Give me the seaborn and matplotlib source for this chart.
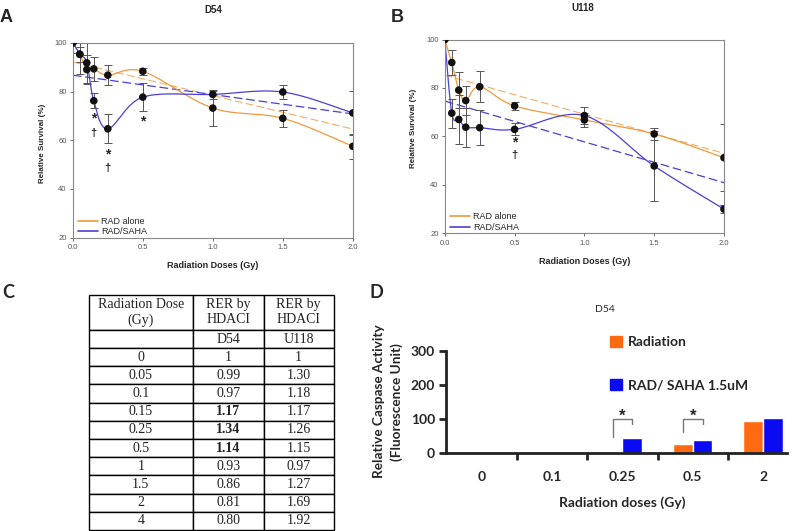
import numpy as np
import pandas as pd
import matplotlib
matplotlib.use("Agg")
import matplotlib.pyplot as plt
from matplotlib.lines import Line2D
from matplotlib.patches import Patch
import seaborn as sns

sns.set_style("white")
plt.rcParams['font.family'] = ['Liberation Sans', 'DejaVu Sans']

# ---- data ----
doses = [0, 0.05, 0.1, 0.15, 0.25, 0.5, 1.0, 1.5, 2.0]

# panel A, D54
a_rad = [100, 95.3, 89.0, 89.3, 86.7, 88.3, 73.2, 69.0, 57.5]
a_rad_err = [4.2, 3.0, 6.0, 5.0, 4.0, 1.5, 7.2, 3.6, 5.0]
a_saha = [100, 95.3, 91.8, 76.2, 64.7, 77.7, 78.8, 79.8, 71.2]
a_saha_err = [0, 8.3, 8.5, 3.0, 6.0, 5.8, 2.0, 2.8, 9.2]
a_trend_rad = [92.1, 64.6]
a_trend_saha = [86.7, 70.8]

# panel B, U118
b_rad = [100, 90.5, 79.1, 74.8, 80.5, 72.6, 66.8, 61.0, 51.2]
b_rad_err = [0, 5.3, 7.5, 6.0, 6.4, 1.6, 3.0, 2.6, 13.8]
b_saha = [100, 69.6, 67.0, 63.8, 63.6, 62.9, 68.6, 47.8, 30.0]
b_saha_err = [0, 6.0, 10.0, 8.0, 7.3, 2.5, 3.6, 14.5, 1.6]
b_trend_rad = [85.3, 53.0]
b_trend_saha = [74.6, 40.9]

# panel C table
table_doses = ['0', '0.05', '0.1', '0.15', '0.25', '0.5', '1', '1.5', '2', '4']
rer_d54 = ['1', '0.99', '0.97', '1.17', '1.34', '1.14', '0.93', '0.86', '0.81', '0.80']
rer_u118 = ['1', '1.30', '1.18', '1.17', '1.26', '1.15', '0.97', '1.27', '1.69', '1.92']
bold_d54 = ['0.15', '0.25', '0.5']

# panel D caspase
casp_doses = ['0', '0.1', '0.25', '0.5', '2']
casp_rad = [0, 0, 2, 27, 95]
casp_saha = [0, 0, 44, 38, 102]
sig_groups = ['0.25', '0.5']
sig_left = [48, 62]
sig_right = [84, 84]
sig_top = [100, 100]

ORANGE = '#EE9A3C'
BLUE = '#4A3FD6'
GREY = '#555555'


def smooth(xs, ys, sx, sy, n=25):
    # Excel-like smoothed line, computed in screen-ish units
    p = np.column_stack([np.asarray(xs) * sx, np.asarray(ys) * sy])
    segs = []
    for i in range(len(p) - 1):
        p0 = p[max(i - 1, 0)]
        p1 = p[i]
        p2 = p[i + 1]
        p3 = p[min(i + 2, len(p) - 1)]
        c1 = p1 + (p2 - p0) / 6
        c2 = p2 - (p3 - p1) / 6
        t = np.linspace(0, 1, n)[:, None]
        segs.append((1 - t) ** 3 * p1 + 3 * (1 - t) ** 2 * t * c1 + 3 * (1 - t) * t ** 2 * c2 + t ** 3 * p2)
    arr = np.vstack(segs)
    return arr[:, 0] / sx, arr[:, 1] / sy


def survival_panel(ax, rad, rad_err, saha, saha_err, tr_rad, tr_saha):
    xr, yr = smooth(doses, rad, 140, 2.44)
    xs, ys = smooth(doses, saha, 140, 2.44)
    ax.plot([0, 2], tr_rad, color=ORANGE, lw=0.8, ls=(0, (7, 3)), alpha=0.8)
    ax.plot([0, 2], tr_saha, color=BLUE, lw=0.9, ls=(0, (7, 3)))
    ax.plot(xr, yr, color=ORANGE, lw=0.9)
    ax.plot(xs, ys, color=BLUE, lw=0.9)
    ax.errorbar(doses, rad, yerr=rad_err, fmt='none', ecolor=GREY, elinewidth=0.7, capsize=3, capthick=0.7)
    ax.errorbar(doses, saha, yerr=saha_err, fmt='none', ecolor=GREY, elinewidth=0.7, capsize=3, capthick=0.7)
    pts = pd.DataFrame({'dose': doses * 2, 'surv': rad + saha})
    sns.scatterplot(data=pts, x='dose', y='surv', color='#111111', s=30, edgecolor='none', ax=ax, zorder=5)
    ax.set_xlim(0, 2.0)
    ax.set_ylim(20, 100)
    ax.set_xticks([0, 0.5, 1.0, 1.5, 2.0], ['0.0', '0.5', '1.0', '1.5', '2.0'])
    ax.set_yticks([20, 40, 60, 80, 100])
    ax.tick_params(labelsize=5.5, colors=GREY, length=2.5, width=0.6, pad=2, left=True, bottom=True)
    for s in ax.spines.values():
        s.set_color('#888888')
        s.set_linewidth(0.8)
    ax.set_xlabel('')
    ax.set_ylabel('')
    handles = [Line2D([], [], color=ORANGE, lw=1.2), Line2D([], [], color=BLUE, lw=1.2)]
    ax.legend(handles, ['RAD alone', 'RAD/SAHA'], loc='lower left', bbox_to_anchor=(0.0, -0.02),
              frameon=False, fontsize=6.5, handlelength=2.2, handletextpad=0.3, labelspacing=0.15,
              borderaxespad=0.2)


fig = plt.figure(figsize=(8, 5.31), dpi=100)

# ---- A ----
axA = fig.add_axes([0.091, 0.5524, 0.350, 0.367])
survival_panel(axA, a_rad, a_rad_err, a_saha, a_saha_err, a_trend_rad, a_trend_saha)
for x, y, s in [(0.15, 69.0, '*'), (0.15, 63.0, '†'), (0.25, 54.3, '*'), (0.25, 48.8, '†'), (0.5, 67.6, '*')]:
    axA.text(x, y, s, ha='center', va='center', fontsize=10 if s == '*' else 8, fontweight='bold')
fig.text(213 / 800, 1 - 10 / 531, 'D54', ha='center', va='center', fontsize=7, fontweight='bold')
fig.text(213 / 800, 1 - 266 / 531, 'Radiation Doses (Gy)', ha='center', va='center', fontsize=6.5, fontweight='bold')
fig.text(42 / 800, 1 - 143 / 531, 'Relative Survival (%)', ha='center', va='center', rotation=90,
         fontsize=5.8, fontweight='bold')
fig.text(6 / 800, 1 - 17 / 531, 'A', ha='center', va='center', fontsize=13, fontweight='bold')

# ---- B ----
axB = fig.add_axes([0.556, 0.5606, 0.349, 0.365])
survival_panel(axB, b_rad, b_rad_err, b_saha, b_saha_err, b_trend_rad, b_trend_saha)
for x, y, s in [(0.5, 57.4, '*'), (0.5, 52.4, '†')]:
    axB.text(x, y, s, ha='center', va='center', fontsize=10 if s == '*' else 8, fontweight='bold')
fig.text(583 / 800, 1 - 8 / 531, 'U118', ha='center', va='center', fontsize=7, fontweight='bold')
fig.text(585 / 800, 1 - 262 / 531, 'Radiation Doses (Gy)', ha='center', va='center', fontsize=6.5, fontweight='bold')
fig.text(414 / 800, 1 - 128 / 531, 'Relative Survival (%)', ha='center', va='center', rotation=90,
         fontsize=5.8, fontweight='bold')
fig.text(397 / 800, 1 - 17 / 531, 'B', ha='center', va='center', fontsize=13, fontweight='bold')

# ---- C table ----
axC = fig.add_axes([0.111, 0.002, 0.306, 0.4425])
axC.axis('off')
cells = [['Radiation Dose\n(Gy)', 'RER by\nHDACI', 'RER by\nHDACI'], ['', 'D54', 'U118']]
cells += [[d, a, b] for d, a, b in zip(table_doses, rer_d54, rer_u118)]
tab = axC.table(cellText=cells, cellLoc='center', bbox=[0, 0, 1, 1], colWidths=[104, 71, 70])
tab.auto_set_font_size(False)
for (r, c), cell in tab.get_celld().items():
    cell.set_height(35 if r == 0 else 18.2)
    cell.set_edgecolor('black')
    cell.set_linewidth(1.0)
    txt = cell.get_text()
    txt.set_fontfamily(['Liberation Serif', 'DejaVu Serif'])
    txt.set_fontsize(10)
    txt.set_color('#222222')
    if c == 1 and r >= 2 and cells[r][0] in bold_d54:
        txt.set_fontweight('bold')
fig.text(8 / 800, 1 - 292 / 531, 'C', ha='center', va='center', fontsize=13, fontweight='bold',
         family=['Lato', 'DejaVu Sans'])

# ---- D bars ----
axD = fig.add_axes([446 / 800, 1 - 453 / 531, 341 / 800, 102.3 / 531])
bars = pd.DataFrame({
    'dose': casp_doses * 2,
    'value': casp_rad + casp_saha,
    'group': ['Radiation'] * len(casp_doses) + ['RAD/ SAHA 1.5uM'] * len(casp_doses),
})
sns.barplot(data=bars, x='dose', y='value', hue='group', order=casp_doses,
            palette=['#FF6A10', '#0A0AF5'], saturation=1, width=0.56, ax=axD, legend=False)
axD.set_xlim(-0.51, 4.34)
axD.set_ylim(0, 300)
axD.set_yticks([0, 100, 200, 300])
axD.set_xticks([0.5, 1.5, 2.5, 3.5], [])
axD.set_xticks(range(len(casp_doses)), casp_doses, minor=True)
axD.tick_params(axis='x', which='major', direction='out', length=5, width=2, bottom=True)
axD.tick_params(axis='x', which='minor', length=0, pad=13)
axD.tick_params(axis='y', direction='out', length=5, width=2, left=True, pad=3)
for lab in axD.get_xticklabels(minor=True) + axD.get_yticklabels():
    lab.set_fontfamily(['Lato', 'DejaVu Sans'])
    lab.set_fontweight('bold')
    lab.set_fontsize(10)
for side in ['top', 'right']:
    axD.spines[side].set_visible(False)
for side in ['left', 'bottom']:
    axD.spines[side].set_linewidth(2)
    axD.spines[side].set_color('#222222')
axD.set_xlabel('')
axD.set_ylabel('')
for g, yl, yr, yt in zip(sig_groups, sig_left, sig_right, sig_top):
    i = casp_doses.index(g)
    axD.plot([i - 0.14, i - 0.14, i + 0.14, i + 0.14], [yl, yt, yt, yr], color='#777777', lw=1.0)
    axD.text(i, yt + 8, '*', ha='center', va='center', fontsize=12, fontweight='bold')
handles = [Patch(color='#FF6A10'), Patch(color='#0A0AF5')]
fig.legend(handles, ['Radiation', 'RAD/ SAHA 1.5uM'], loc='upper left',
           bbox_to_anchor=(604 / 800, 1 - 330 / 531), frameon=False, handlelength=0.9, handleheight=0.9,
           handletextpad=0.4, labelspacing=2.2, borderaxespad=0,
           prop={'family': ['Lato', 'DejaVu Sans'], 'weight': 'bold', 'size': 10})
fig.text(605 / 800, 1 - 309 / 531, 'D54', ha='center', va='center', fontsize=7.5, family=['Lato', 'DejaVu Sans'])
fig.text(622 / 800, 1 - 503 / 531, 'Radiation doses (Gy)', ha='center', va='center', fontsize=10,
         fontweight='bold', family=['Lato', 'DejaVu Sans'])
fig.text(379 / 800, 1 - 401 / 531, 'Relative Caspase Activity', ha='center', va='center', rotation=90,
         fontsize=9.8, fontweight='bold', family=['Lato', 'DejaVu Sans'])
fig.text(397 / 800, 1 - 402 / 531, '(Fluorescence Unit)', ha='center', va='center', rotation=90,
         fontsize=9.8, fontweight='bold', family=['Lato', 'DejaVu Sans'])
fig.text(376 / 800, 1 - 292 / 531, 'D', ha='center', va='center', fontsize=13, fontweight='bold',
         family=['Lato', 'DejaVu Sans'])

fig.savefig('out.png', dpi=100)
plt.close()
